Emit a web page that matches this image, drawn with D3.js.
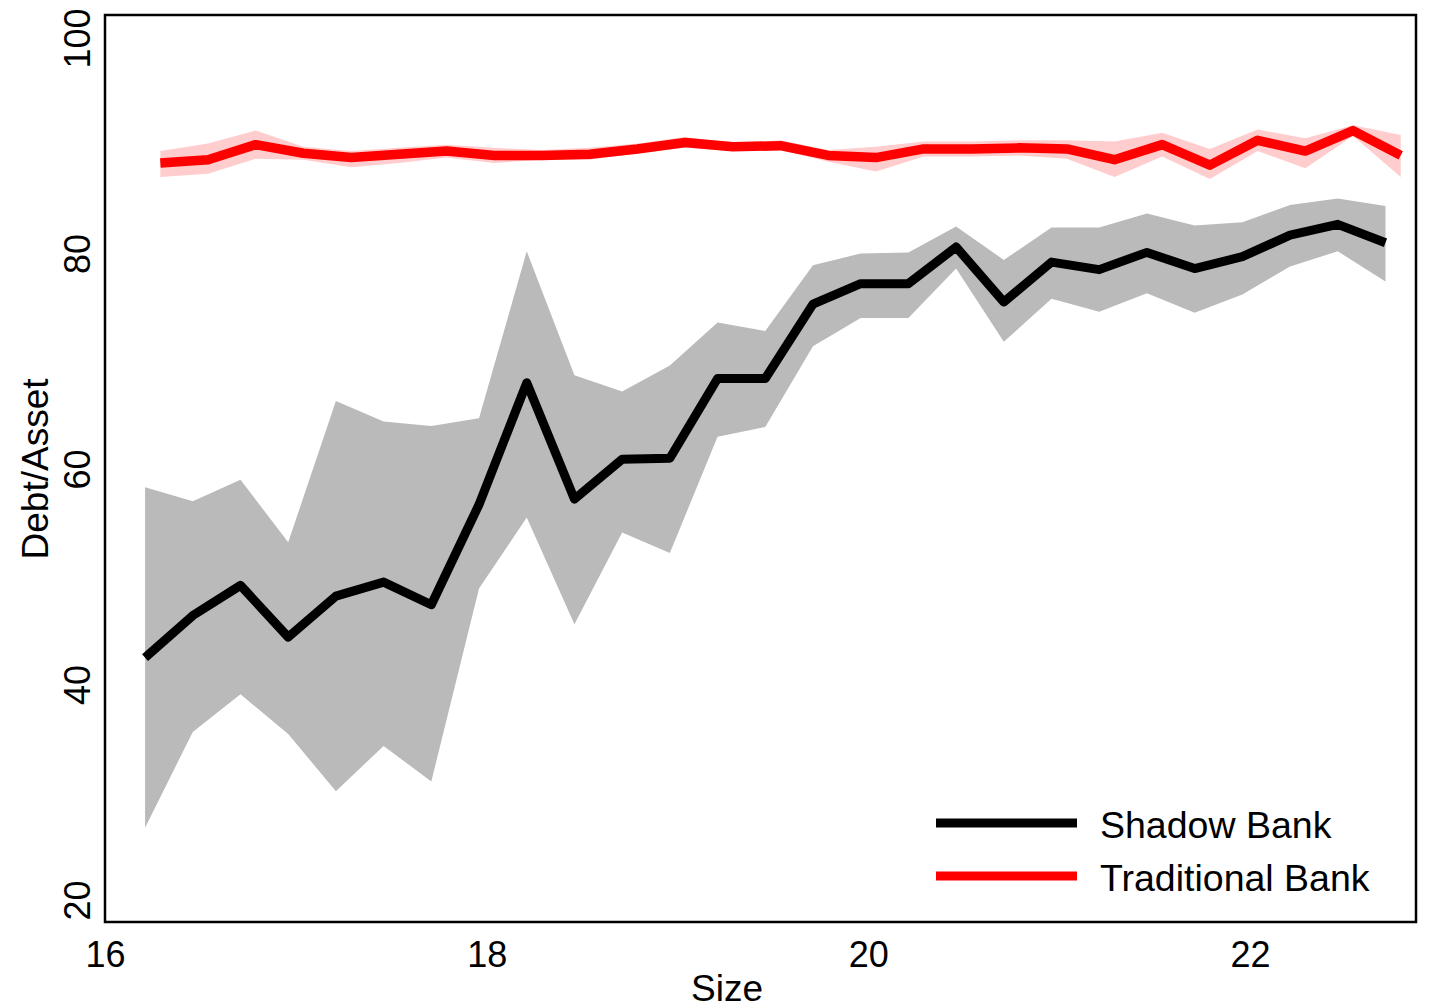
<!DOCTYPE html>
<html>
<head>
<meta charset="utf-8">
<script src="https://cdn.jsdelivr.net/npm/d3@7"></script>
<style>
  body { margin: 0; background: #fff; }
  text { font-family: "Liberation Sans", Arial, sans-serif; fill: #000; }
</style>
</head>
<body>
<script>
// size bins (log assets)
var shadowSize = [16.21, 16.46, 16.71, 16.96, 17.21, 17.46, 17.71, 17.96, 18.21, 18.46, 18.71, 18.96, 19.21, 19.46,
                  19.71, 19.96, 20.21, 20.46, 20.71, 20.96, 21.21, 21.46, 21.71, 21.96, 22.21, 22.46, 22.71];
var shadowMean = [42.5, 46.4, 49.2, 44.4, 48.2, 49.5, 47.4, 56.7, 68.0, 57.2, 60.9, 61.0, 68.4, 68.4,
                  75.3, 77.2, 77.2, 80.6, 75.5, 79.2, 78.5, 80.1, 78.6, 79.7, 81.7, 82.7, 81.0];
var shadowHi   = [58.3, 57.0, 59.0, 53.2, 66.3, 64.4, 64.0, 64.7, 80.2, 68.7, 67.2, 69.6, 73.6, 72.8,
                  78.9, 80.0, 80.1, 82.5, 79.4, 82.4, 82.4, 83.7, 82.6, 82.9, 84.5, 85.1, 84.4];
var shadowLo   = [26.7, 35.6, 39.1, 35.4, 30.1, 34.3, 31.0, 48.9, 55.5, 45.6, 54.1, 52.2, 63.0, 63.9,
                  71.4, 74.0, 74.0, 78.6, 71.8, 75.8, 74.6, 76.3, 74.5, 76.2, 78.8, 80.2, 77.4];

var tradSize = [16.29, 16.54, 16.79, 17.04, 17.29, 17.54, 17.79, 18.04, 18.29, 18.54, 18.79, 19.04, 19.29, 19.54,
                19.79, 20.04, 20.29, 20.54, 20.79, 21.04, 21.29, 21.54, 21.79, 22.04, 22.29, 22.54, 22.79];
var tradMean = [88.4, 88.7, 90.1, 89.3, 88.9, 89.2, 89.5, 89.1, 89.1, 89.2, 89.7, 90.3, 89.9, 90.0,
                89.1, 88.9, 89.7, 89.7, 89.8, 89.7, 88.7, 90.1, 88.2, 90.5, 89.5, 91.4, 89.1];
var tradHi   = [89.5, 90.2, 91.4, 89.9, 89.5, 89.8, 90.1, 89.8, 89.6, 89.8, 90.2, 90.8, 90.2, 90.5,
                89.6, 89.9, 90.4, 90.4, 90.5, 90.5, 90.4, 91.2, 89.7, 91.5, 90.7, 91.9, 91.0];
var tradLo   = [87.1, 87.4, 88.8, 88.7, 88.0, 88.4, 88.9, 88.4, 88.7, 88.7, 89.3, 89.8, 89.5, 89.6,
                88.5, 87.6, 89.0, 89.0, 89.1, 88.8, 87.1, 89.0, 86.9, 89.5, 87.9, 90.9, 87.1];

var xTicks = [16, 18, 20, 22];
var yTicks = [20, 40, 60, 80, 100];

var padL = 105, padT = 15, padR = 1416, padB = 922;

var svg = d3.select("body").append("svg").attr("width", 1430).attr("height", 1008);

var x = d3.scaleLinear().domain([16, 22.87]).range([padL, padR]);
var y = d3.scaleLinear().domain([17.96, 102.13]).range([padB, padT]);

function band(xs, lo, hi) {
  return d3.area()
    .x(function(d, i) { return x(xs[i]); })
    .y0(function(d, i) { return y(lo[i]); })
    .y1(function(d, i) { return y(hi[i]); })(xs);
}
function line(xs, ys) {
  return d3.line()
    .x(function(d, i) { return x(xs[i]); })
    .y(function(d, i) { return y(ys[i]); })(xs);
}

// confidence bands
svg.append("path").attr("d", band(shadowSize, shadowLo, shadowHi)).attr("fill", "rgb(186,186,186)");
svg.append("path").attr("d", band(tradSize, tradLo, tradHi)).attr("fill", "rgb(255,205,205)");

// mean lines
svg.append("path").attr("d", line(shadowSize, shadowMean))
  .attr("fill", "none").attr("stroke", "#000").attr("stroke-width", 9)
  .attr("stroke-linejoin", "round");
svg.append("path").attr("d", line(tradSize, tradMean))
  .attr("fill", "none").attr("stroke", "#ff0000").attr("stroke-width", 9.5)
  .attr("stroke-linejoin", "round");

// box
svg.append("rect").attr("x", padL).attr("y", padT)
  .attr("width", padR - padL).attr("height", padB - padT)
  .attr("fill", "none").attr("stroke", "#000").attr("stroke-width", 2.5);

// axes, no tick marks
var xAxis = d3.axisBottom(x).tickValues(xTicks).tickFormat(d3.format("d")).tickSize(0).tickPadding(0);
var gx = svg.append("g").attr("transform", "translate(0," + padB + ")").call(xAxis);
gx.select(".domain").remove();
gx.selectAll("text").attr("font-size", 36).attr("dy", null).attr("y", 45);

var yAxis = d3.axisLeft(y).tickValues(yTicks).tickFormat(d3.format("d")).tickSize(0);
var gy = svg.append("g").attr("transform", "translate(" + padL + ",0)").call(yAxis);
gy.select(".domain").remove();
gy.selectAll(".tick text")
  .attr("font-size", 36).attr("x", null).attr("dy", null)
  .attr("text-anchor", "middle")
  .attr("transform", "translate(-15,0) rotate(-90)");

svg.append("text").attr("x", 727).attr("y", 1001).attr("text-anchor", "middle")
  .attr("font-size", 37).text("Size");
svg.append("text").attr("transform", "translate(48,469) rotate(-90)").attr("text-anchor", "middle")
  .attr("font-size", 37).text("Debt/Asset");

// legend
var legend = [
  { name: "Shadow Bank", color: "#000" },
  { name: "Traditional Bank", color: "#ff0000" }
];
legend.forEach(function(d, i) {
  var ly = 823 + i * 53;
  svg.append("line").attr("x1", 936).attr("x2", 1077).attr("y1", ly).attr("y2", ly)
    .attr("stroke", d.color).attr("stroke-width", 9);
  svg.append("text").attr("x", 1100).attr("y", ly + 15).attr("font-size", 37.5).text(d.name);
});
</script>
</body>
</html>
